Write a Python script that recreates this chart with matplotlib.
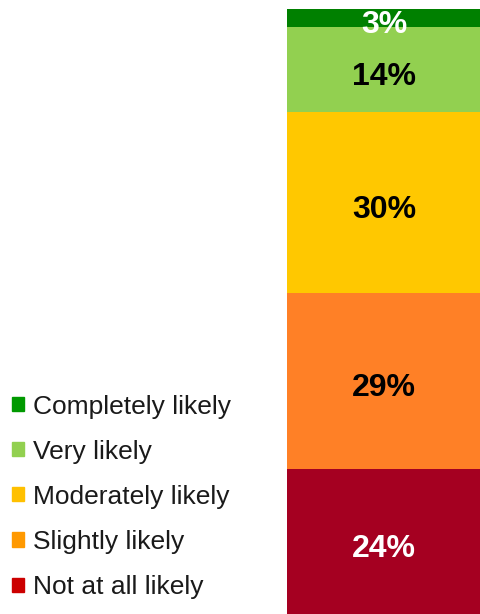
import matplotlib.pyplot as plt
from matplotlib.patches import Patch

plt.rcParams['font.family'] = ['Liberation Sans', 'DejaVu Sans']

categories = ['Not at all likely', 'Slightly likely', 'Moderately likely',
              'Very likely', 'Completely likely']
shares = [24, 29, 30, 14, 3]
bar_colors = ['#A50021', '#FF8026', '#FFC800', '#92D050', '#008000']
key_colors = ['#CC0000', '#FF9900', '#FFC000', '#92D050', '#009900']
text_colors = ['white', 'black', 'black', 'black', 'white']

fig = plt.figure(figsize=(4.81, 6.14), dpi=100)
ax = fig.add_axes([287 / 481, 0, 194 / 481, 605 / 614])

bottom = 0
for share, col, tcol in zip(shares, bar_colors, text_colors):
    ax.bar(0, share, bottom=bottom, width=1, color=col, linewidth=0)
    ax.text(0, bottom + share / 2 - 0.6, f'{share}%', ha='center',
            va='center_baseline', color=tcol, fontsize=23,
            fontweight='bold', clip_on=False)
    bottom += share

ax.set_xlim(-0.5, 0.5)
ax.set_ylim(0, 100)
ax.axis('off')

handles = [Patch(color=c, label=l) for c, l in zip(key_colors, categories)]
leg = fig.legend(handles[::-1], categories[::-1],
                 loc='lower left', bbox_to_anchor=(12 / 481, 15 / 614),
                 frameon=False, fontsize=19, handlelength=0.45,
                 handleheight=0.45, handletextpad=0.34, labelspacing=0.8,
                 borderpad=0, borderaxespad=0)
for t in leg.get_texts():
    t.set_color('#1a1a1a')

fig.savefig('out.png', dpi=100)
